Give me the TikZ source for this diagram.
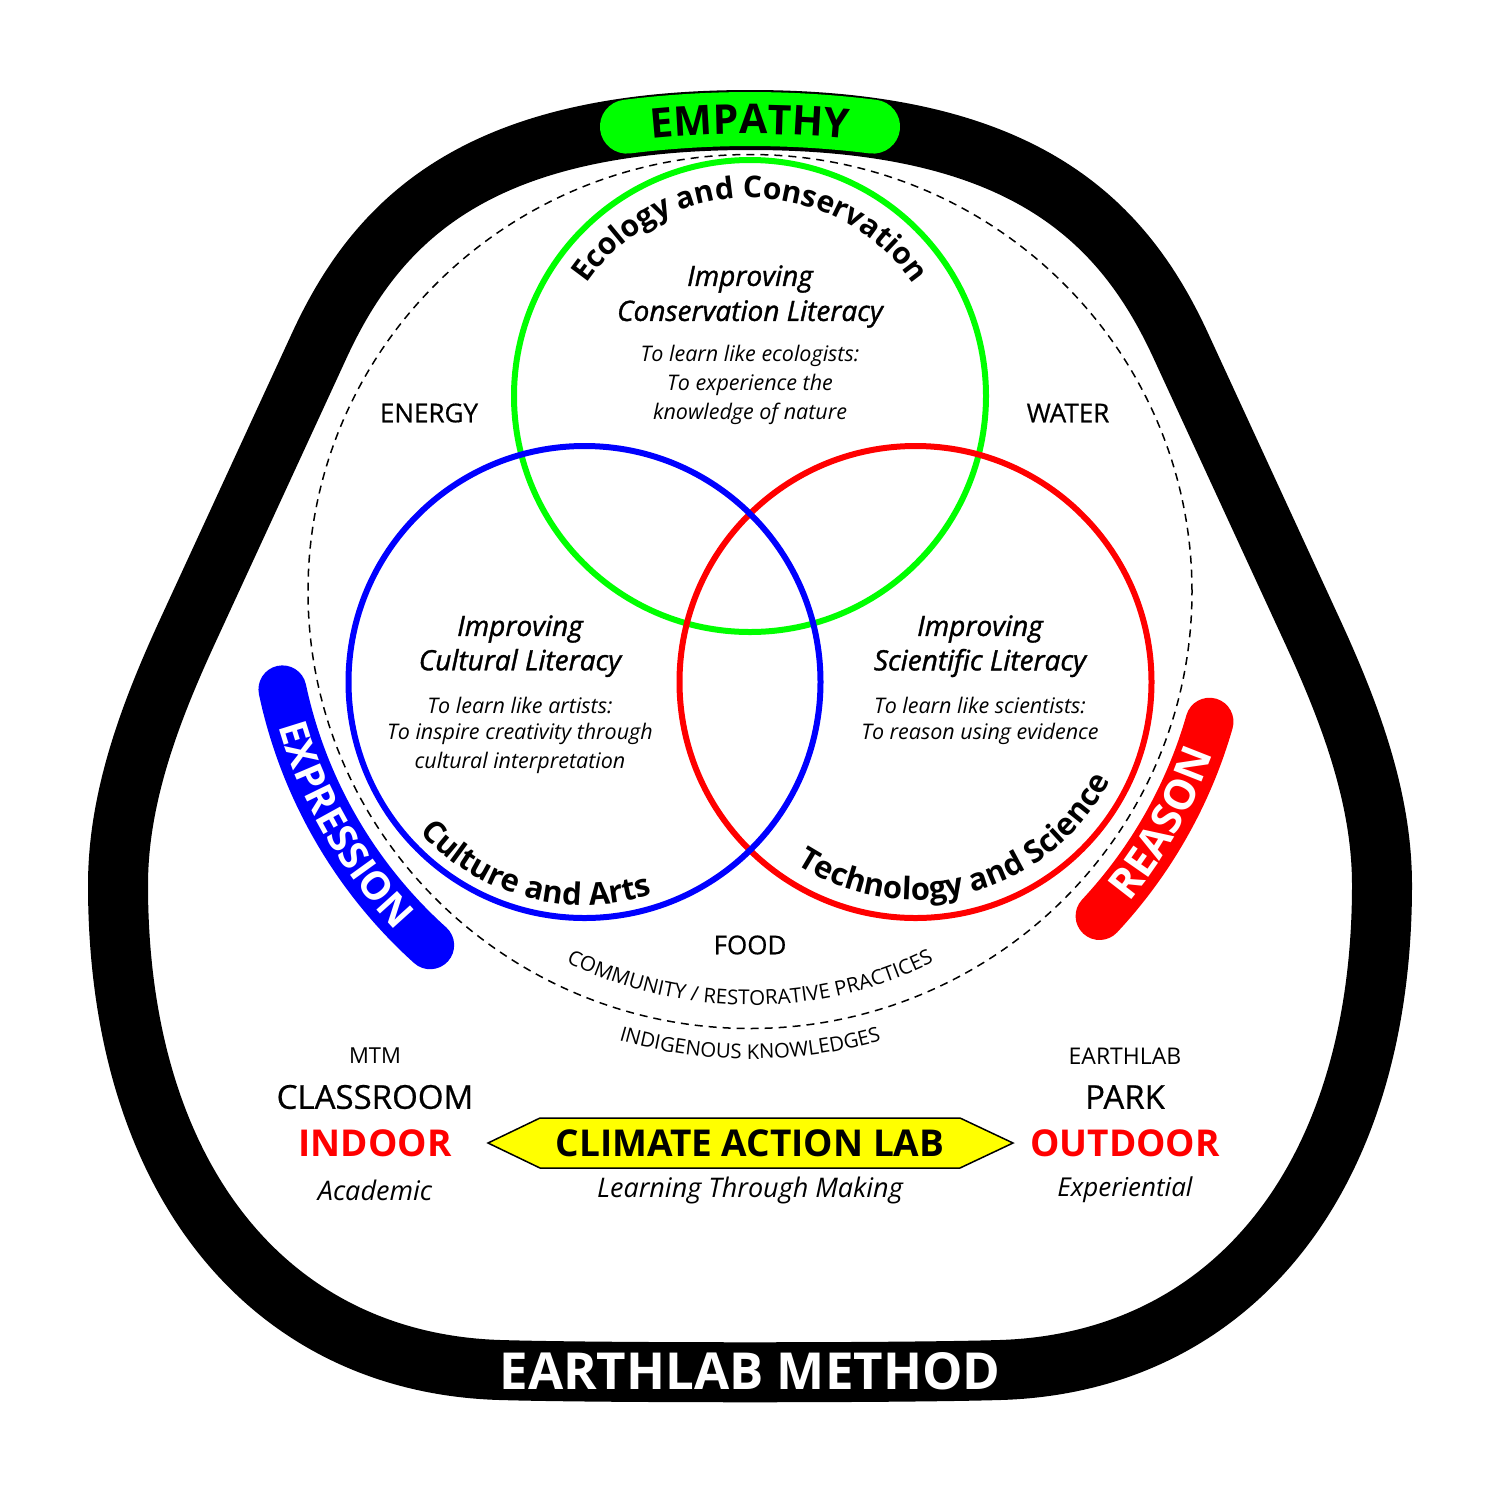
\documentclass[tikz,border=0pt]{standalone}
\usepackage{fontspec}
\setmainfont{Open Sans}
\setsansfont{Open Sans}
\newfontfamily\semib[FakeBold=1.3]{Open Sans}
\newfontfamily\medf[FakeBold=0.6]{Open Sans}
\newfontfamily\trackf[LetterSpace=13]{Open Sans}
\usetikzlibrary{decorations.text}
\definecolor{cgreen}{RGB}{0,255,0}
\definecolor{cblue}{RGB}{0,0,255}
\definecolor{cred}{RGB}{255,0,0}
\definecolor{cyellow}{RGB}{255,255,0}
\newcommand\fsz[1]{\fontsize{#1}{#1}\selectfont}
\begin{document}
\begin{tikzpicture}[x=1pt,y=1pt,
  curvetext/.style={decorate, decoration={text along path, text align=center, text={#1}}},
  ring/.style={line width=6pt},
  pill/.style={line cap=round},
  lbl/.style={inner sep=0pt, anchor=center},
  head/.style={lbl, font=\semib\itshape\fsz{28}},
  desc/.style={lbl, font=\itshape\fsz{21.5}},
  elem/.style={lbl, font=\medf\fsz{26}},
]
\fill[white] (0,0) rectangle (1500,-1500);
\useasboundingbox (0,0) rectangle (1500,-1500);
\coordinate (G) at (750,-396);
\coordinate (B) at (584.5,-682);
\coordinate (R) at (915.5,-682);
\coordinate (D) at (750,-590);
\coordinate (Dd) at (750,-591.5);
\coordinate (E) at (750,-1119);

% outer band
\draw[line width=60pt, line join=round]
  (750,-120)
  .. controls (1020,-120) and (1121,-217) .. (1180,-344)
  -- (1310,-626)
  .. controls (1348,-708) and (1382,-795) .. (1382,-885)
  .. controls (1382,-1180) and (1230,-1363) .. (1000,-1370)
  .. controls (900,-1373) and (600,-1373) .. (500,-1370)
  .. controls (270,-1363) and (118,-1180) .. (118,-885)
  .. controls (118,-795) and (152,-708) .. (190,-626)
  -- (320,-344)
  .. controls (379,-217) and (480,-120) .. (750,-120)
  -- cycle;

% pills
\draw[pill, line width=54pt, cgreen] (E) ++(97.07:1000) arc[start angle=97.07, end angle=82.93, radius=1000];
\draw[pill, line width=48pt, cblue] (D) ++(192:478) arc[start angle=192, end angle=228, radius=478];
\draw[pill, line width=48pt, cred] (D) ++(317:478) arc[start angle=317, end angle=344, radius=478];

% dashed circle
\draw[line width=1.5pt, dash pattern=on 8pt off 6pt] (Dd) ellipse[x radius=442, y radius=437];

% venn circles
\draw[ring, cgreen] (G) circle[radius=236];
\draw[ring, cred] (R) circle[radius=236];
\draw[ring, cblue] (B) circle[radius=236];

% curved titles
\path[curvetext={|\fsz{30}\bfseries|Ecology and Conservation}] (G) ++(165:198) arc[start angle=165, end angle=15, radius=198];
\path[curvetext={|\fsz{31}\bfseries|Culture and Arts}] (B) ++(195:223) arc[start angle=195, end angle=315, radius=223];
\path[curvetext={|\fsz{31}\bfseries|Technology and Science}] (R) ++(215:218) arc[start angle=215, end angle=355, radius=218];
\path[curvetext={|\fsz{41}\bfseries|EMPATHY}] (E) ++(100:985) arc[start angle=100, end angle=80, radius=985];
\path[curvetext={|\trackf\fsz{39}\bfseries\color{white}|EXPRESSION}] (D) ++(178:491) arc[start angle=178, end angle=242, radius=491];
\path[curvetext={|\trackf\fsz{42}\bfseries\color{white}|REASON}] (D) ++(298:491) arc[start angle=298, end angle=363, radius=491];
\path[curvetext={|\fsz{20.5}|COMMUNITY / RESTORATIVE PRACTICES}] (D) ++(225:415) arc[start angle=225, end angle=315, radius=415];
\path[curvetext={|\fsz{20.3}|INDIGENOUS KNOWLEDGES}] (D) ++(235:469) arc[start angle=235, end angle=305, radius=469];

% green circle text
\node[head] (g1) at (750,-279) {Improving};
\node[head] (g2) at (750,-314) {Conservation Literacy};
\node[desc] (g3) at (750,-356) {To learn like ecologists:};
\node[desc] (g4) at (750,-385) {To experience the};
\node[desc] (g5) at (750,-414) {knowledge of nature};
% blue circle text
\node[head] (b1) at (520,-629) {Improving};
\node[head] (b2) at (520,-663) {Cultural Literacy};
\node[desc] (b3) at (520,-705) {To learn like artists:};
\node[desc] (b4) at (520,-734) {To inspire creativity through};
\node[desc] (b5) at (520,-763) {cultural interpretation};
% red circle text
\node[head] (r1) at (980,-629) {Improving};
\node[head] (r2) at (980,-663) {Scientific Literacy};
\node[desc] (r3) at (980,-705) {To learn like scientists:};
\node[desc] (r4) at (980,-734) {To reason using evidence};

% elements
\node[elem] (energy) at (429,-413) {ENERGY};
\node[elem] (water) at (1068,-413) {WATER};
\node[elem] (food) at (750,-945) {FOOD};

% bottom left / right
\node[lbl, font=\fsz{22}] (mtm) at (375,-1056) {MTM};
\node[lbl, font=\medf\fsz{33}] (classroom) at (375,-1097) {CLASSROOM};
\node[lbl, font=\bfseries\fsz{37}, text=cred] (indoor) at (375,-1143) {INDOOR};
\node[lbl, font=\itshape\fsz{27}] (academic) at (375,-1190) {Academic};
\node[lbl, font=\fsz{23}] (earthlab) at (1125,-1056) {EARTHLAB};
\node[lbl, font=\medf\fsz{33}] (park) at (1125,-1097) {PARK};
\node[lbl, font=\bfseries\fsz{37}, text=cred] (outdoor) at (1125,-1143) {OUTDOOR};
\node[lbl, font=\itshape\fsz{26}] (experiential) at (1125,-1190) {Experiential};

% climate action lab
\draw[fill=cyellow, line width=1.5pt] (488,-1143) -- (540,-1118) -- (960,-1118) -- (1013,-1143) -- (960,-1168) -- (540,-1168) -- cycle;
\node[lbl, font=\bfseries\fsz{37}] (cal) at (750,-1143) {CLIMATE ACTION LAB};
\node[lbl, font=\itshape\fsz{27}] (ltm) at (750,-1190) {Learning Through Making};

% title
\node[lbl, font=\bfseries\fsz{51}, text=white] (title) at (750,-1371) {EARTHLAB METHOD};
\end{tikzpicture}
\end{document}
